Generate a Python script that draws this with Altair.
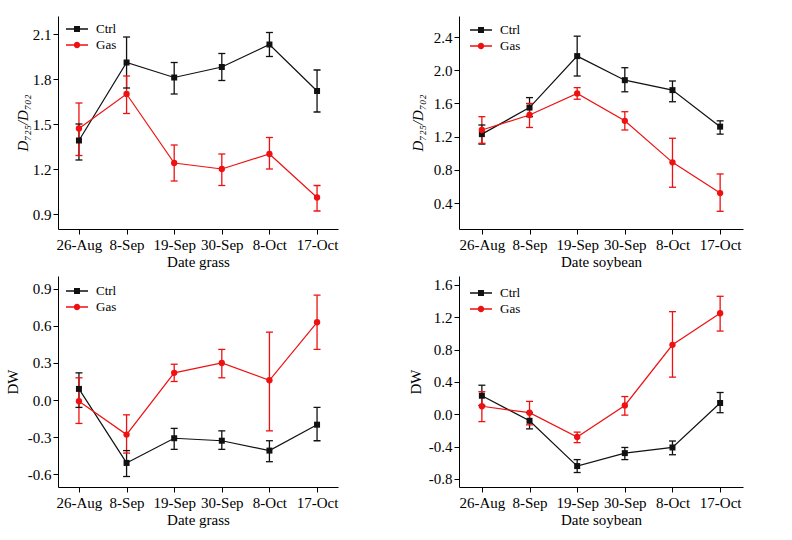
import altair as alt
import pandas as pd

dates = ["26-Aug", "8-Sep", "19-Sep", "30-Sep", "8-Oct", "17-Oct"]
series_names = ["Ctrl", "Gas"]
series_colors = ["#111111", "#ee1111"]

# Panel (a): D725/D702, grass
grass_d_ctrl = [1.39, 1.91, 1.81, 1.88, 2.03, 1.72]
grass_d_ctrl_lo = [1.26, 1.74, 1.70, 1.79, 1.95, 1.58]
grass_d_ctrl_hi = [1.50, 2.08, 1.91, 1.97, 2.11, 1.86]
grass_d_gas = [1.47, 1.70, 1.24, 1.20, 1.30, 1.01]
grass_d_gas_lo = [1.29, 1.57, 1.12, 1.09, 1.20, 0.92]
grass_d_gas_hi = [1.64, 1.82, 1.36, 1.30, 1.41, 1.09]

# Panel (b): D725/D702, soybean
soy_d_ctrl = [1.23, 1.55, 2.17, 1.88, 1.76, 1.32]
soy_d_ctrl_lo = [1.11, 1.44, 1.93, 1.74, 1.62, 1.23]
soy_d_ctrl_hi = [1.34, 1.67, 2.41, 2.03, 1.87, 1.39]
soy_d_gas = [1.28, 1.46, 1.72, 1.39, 0.89, 0.52]
soy_d_gas_lo = [1.12, 1.31, 1.65, 1.28, 0.59, 0.30]
soy_d_gas_hi = [1.44, 1.60, 1.79, 1.50, 1.18, 0.75]

# Panel (c): DW, grass
grass_dw_ctrl = [0.09, -0.51, -0.31, -0.33, -0.41, -0.20]
grass_dw_ctrl_lo = [-0.06, -0.62, -0.40, -0.40, -0.50, -0.33]
grass_dw_ctrl_hi = [0.22, -0.41, -0.23, -0.25, -0.33, -0.06]
grass_dw_gas = [-0.01, -0.28, 0.22, 0.30, 0.16, 0.63]
grass_dw_gas_lo = [-0.19, -0.43, 0.15, 0.18, -0.25, 0.41]
grass_dw_gas_hi = [0.18, -0.12, 0.29, 0.41, 0.55, 0.85]

# Panel (d): DW, soybean
soy_dw_ctrl = [0.23, -0.08, -0.64, -0.48, -0.41, 0.14]
soy_dw_ctrl_lo = [0.11, -0.18, -0.72, -0.56, -0.50, 0.02]
soy_dw_ctrl_hi = [0.36, 0.02, -0.56, -0.41, -0.33, 0.27]
soy_dw_gas = [0.10, 0.02, -0.28, 0.11, 0.86, 1.25]
soy_dw_gas_lo = [-0.09, -0.13, -0.35, -0.01, 0.46, 1.03]
soy_dw_gas_hi = [0.28, 0.16, -0.22, 0.22, 1.27, 1.46]

FONT = "Liberation Serif"
# legend glyphs: a short line with the series marker on it (unit coords)
LEGEND_PATHS = [
    "M-1.4,-0.08H1.4V0.08H-1.4Z M-0.38,-0.38H0.38V0.38H-0.38Z",
    "M-1.4,-0.08H1.4V0.08H-1.4Z M0.41,0A0.41,0.41 0 1,1 -0.41,0A0.41,0.41 0 1,1 0.41,0Z",
]
MINUS_FIX = "replace(format(datum.value, '.1f'), '\u2212', '-')"


def make_df(ctrl, ctrl_lo, ctrl_hi, gas, gas_lo, gas_hi):
    rows = []
    for name, v, lo, hi in (("Ctrl", ctrl, ctrl_lo, ctrl_hi), ("Gas", gas, gas_lo, gas_hi)):
        for d, a, b, c in zip(dates, v, lo, hi):
            rows.append({"date": d, "series": name, "v": a, "lo": b, "hi": c})
    return pd.DataFrame(rows)


def panel(df, ydom, yticks, ytitle, xtitle, width, height, xpad, italic, tpad, leg_x, leg_y):
    cscale = alt.Scale(domain=series_names, range=series_colors)
    stroke = alt.Stroke("series:N", scale=cscale, legend=None)
    fill = alt.Fill("series:N", scale=cscale, legend=None)
    x = alt.X("date:N", sort=dates, scale=alt.Scale(type="point", padding=xpad),
              axis=alt.Axis(title=xtitle, labelAngle=0))
    yscale = alt.Scale(domain=ydom, nice=False, zero=False)
    yaxis = alt.Axis(title=ytitle, values=yticks, labelExpr=MINUS_FIX, labelOverlap=False,
                     titlePadding=tpad, titleFontStyle="italic" if italic else "normal")
    y = alt.Y("v:Q", scale=yscale, axis=yaxis)
    base = alt.Chart(df)
    line = base.mark_line(strokeWidth=1.2).encode(x=x, y=y, stroke=stroke)
    rule = base.mark_rule(strokeWidth=1.3).encode(
        x=x, y=alt.Y("lo:Q", scale=yscale, axis=yaxis), y2="hi:Q", stroke=stroke)
    cap_lo = base.mark_tick(size=7, thickness=1.3, opacity=1).encode(
        x=x, y=alt.Y("lo:Q", scale=yscale, axis=yaxis), fill=fill)
    cap_hi = base.mark_tick(size=7, thickness=1.3, opacity=1).encode(
        x=x, y=alt.Y("hi:Q", scale=yscale, axis=yaxis), fill=fill)
    sq = base.transform_filter("datum.series == 'Ctrl'").mark_square(size=36, opacity=1).encode(
        x=x, y=y, fill=fill)
    ci = base.transform_filter("datum.series == 'Gas'").mark_circle(size=40, opacity=1).encode(
        x=x, y=y, fill=fill)
    leg = base.transform_filter("false").mark_point(filled=True, opacity=1).encode(
        color=alt.Color("series:N", scale=cscale,
                        legend=alt.Legend(title=None, orient="none", legendX=leg_x, legendY=leg_y,
                                          padding=0, symbolSize=247, symbolStrokeWidth=0,
                                          labelFont=FONT, labelFontSize=13, labelOffset=11,
                                          rowPadding=1, symbolOpacity=1)),
        shape=alt.Shape("series:N", scale=alt.Scale(domain=series_names, range=LEGEND_PATHS)),
    )
    return alt.layer(line, rule, cap_lo, cap_hi, sq, ci, leg).properties(width=width, height=height)


p1 = panel(make_df(grass_d_ctrl, grass_d_ctrl_lo, grass_d_ctrl_hi, grass_d_gas, grass_d_gas_lo, grass_d_gas_hi),
           [0.8, 2.22], [0.9, 1.2, 1.5, 1.8, 2.1], "D\u2087\u2082\u2085/D\u2087\u2080\u2082", "Date grass",
           280, 213, 0.44, True, 2, 11, 5)
p2 = panel(make_df(soy_d_ctrl, soy_d_ctrl_lo, soy_d_ctrl_hi, soy_d_gas, soy_d_gas_lo, soy_d_gas_hi),
           [0.087, 2.653], [0.4, 0.8, 1.2, 1.6, 2.0, 2.4], "D\u2087\u2082\u2085/D\u2087\u2080\u2082", "Date soybean",
           284, 213, 0.48, True, 8, 14, 6)
p3 = panel(make_df(grass_dw_ctrl, grass_dw_ctrl_lo, grass_dw_ctrl_hi, grass_dw_gas, grass_dw_gas_lo, grass_dw_gas_hi),
           [-0.705, 1.005], [-0.6, -0.3, 0.0, 0.3, 0.6, 0.9], "DW", "Date grass",
           280, 211, 0.44, False, 7, 11, 7)
p4 = panel(make_df(soy_dw_ctrl, soy_dw_ctrl_lo, soy_dw_ctrl_hi, soy_dw_gas, soy_dw_gas_lo, soy_dw_gas_hi),
           [-0.899, 1.711], [-0.8, -0.4, 0.0, 0.4, 0.8, 1.2, 1.6], "DW", "Date soybean",
           284, 211, 0.48, False, 5, 14, 9)

chart = alt.concat(
    p1, p2, p3, p4, columns=2, bounds="flush",
    spacing={"row": 47, "column": 121},
).resolve_scale(
    color="independent", shape="independent"
).properties(
    padding={"left": 5, "top": 16, "right": 5, "bottom": 5},
    background="white",
).configure_view(stroke=None).configure_axis(
    grid=False,
    domainColor="#000000",
    domainWidth=1,
    tickColor="#000000",
    tickSize=5,
    labelFont=FONT,
    labelFontSize=15,
    labelColor="#000000",
    labelPadding=2,
    labelOverlap=False,
    titleFont=FONT,
    titleFontSize=15,
    titleFontWeight="normal",
    titleColor="#000000",
).configure_axisX(titlePadding=2, labelPadding=3)

chart.save("out.html", embed_options={"renderer": "svg", "actions": False})
